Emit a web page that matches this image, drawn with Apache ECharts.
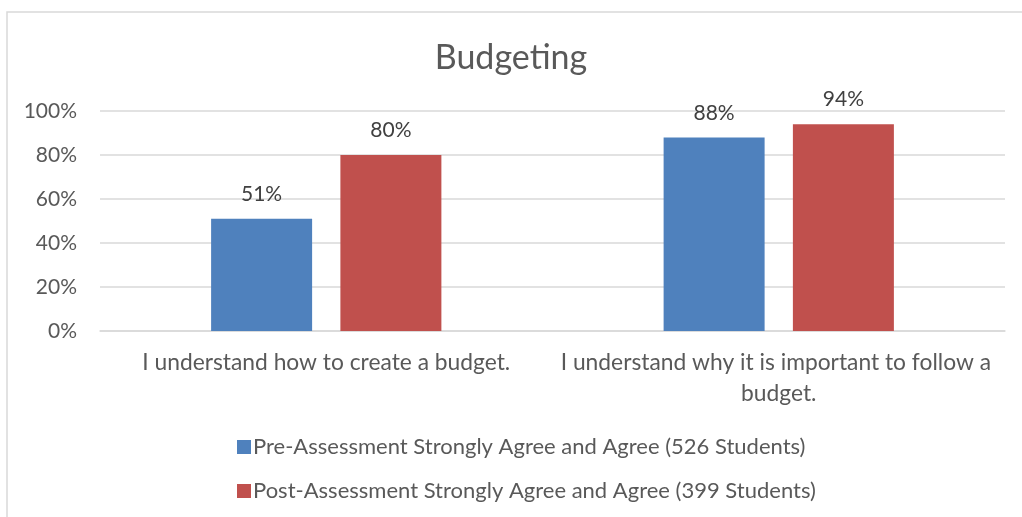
<!DOCTYPE html>
<html><head><meta charset="utf-8">
<script src="https://cdn.jsdelivr.net/npm/echarts@6/dist/echarts.min.js"></script>
<style>html,body{margin:0;padding:0;background:#fff;}#c{width:1022px;height:517px;}</style>
</head><body><div id="c"></div>
<script>
const categories = ["I understand how to create a budget.", "I understand why it is important to follow a budget."];
const seriesNames = ["Pre-Assessment Strongly Agree and Agree (526 Students)", "Post-Assessment Strongly Agree and Agree (399 Students)"];
const preValues = [51, 88];
const postValues = [80, 94];
const yTicks = [0, 20, 40, 60, 80, 100];

const FONT = "Lato, 'Open Sans', sans-serif";
const chart = echarts.init(document.getElementById('c'));
chart.setOption({
  animation: false,
  textStyle: { fontFamily: FONT },
  graphic: [{ type: 'rect', shape: { x: 7, y: 12, width: 1040, height: 540 }, style: { fill: 'none', stroke: '#d9d9d9', lineWidth: 1.5 }, silent: true }],
  title: { text: 'Budgeting', left: 'center', top: 36, textStyle: { fontFamily: FONT, fontSize: 34, fontWeight: 'normal', color: '#595959' } },
  grid: { left: 100, right: 17, top: 111, bottom: 186 },
  legend: {
    orient: 'vertical', left: 232, top: 431, itemGap: 22, itemWidth: 14, itemHeight: 14, icon: 'rect',
    textStyle: { fontFamily: FONT, fontSize: 22, color: '#595959', padding: [0, 0, 0, -3] },
    data: seriesNames
  },
  xAxis: {
    type: 'category', data: categories,
    axisLine: { lineStyle: { color: '#d9d9d9', width: 1.5 } }, axisTick: { show: false },
    axisLabel: { fontFamily: FONT, fontSize: 22.8, color: '#595959', margin: 16, width: 440, overflow: 'break', lineHeight: 31, interval: 0 }
  },
  yAxis: {
    type: 'value', min: 0, max: 100, interval: 20,
    axisLine: { show: false }, axisTick: { show: false },
    splitLine: { lineStyle: { color: '#d9d9d9', width: 1.5 } },
    axisLabel: { fontFamily: FONT, fontSize: 21, color: '#595959', margin: 23, formatter: v => yTicks.includes(v) ? v + '%' : '' }
  },
  series: [
    { name: seriesNames[0], type: 'bar', data: preValues, barWidth: 101, barGap: '28%', itemStyle: { color: '#4f81bd' },
      label: { show: true, position: 'top', distance: 14, formatter: p => p.value + '%', fontFamily: FONT, fontSize: 21, color: '#404040' } },
    { name: seriesNames[1], type: 'bar', data: postValues, barWidth: 101, itemStyle: { color: '#c0504d' },
      label: { show: true, position: 'top', distance: 14, formatter: p => p.value + '%', fontFamily: FONT, fontSize: 21, color: '#404040' } }
  ]
});
</script></body></html>
